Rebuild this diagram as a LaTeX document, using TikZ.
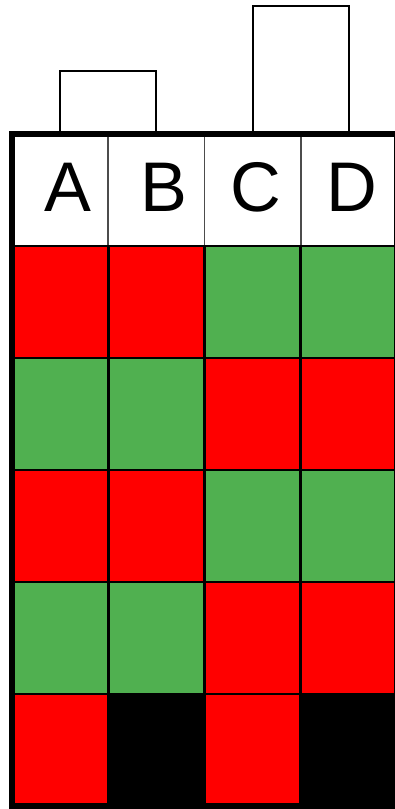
\documentclass[tikz,border=0pt]{standalone}
\usepackage{fontspec}
\setmainfont{Liberation Sans}
\usetikzlibrary{positioning}
\definecolor{hmred}{RGB}{255,0,0}
\definecolor{hmgreen}{RGB}{80,176,80}

\begin{document}
\begin{tikzpicture}[
        x=0.02cm, y=0.02cm,
        cell/.style={rectangle, draw=black, line width=1.6pt, minimum width=1.925cm,
            minimum height=2.24cm, inner sep=0pt, outer sep=0pt},
        head/.style={cell, draw=black!70, line width=0.9pt, fill=white},
        letter/.style={font=\fontsize{40}{48}\selectfont, inner sep=0pt},
        frame/.style={line width=3.3pt},
        link/.style={line width=1.2pt}
    ]
        \useasboundingbox (0,0) rectangle (395,809);
        % header row
        \foreach \col/\x in {A/60.1, B/156.4, C/252.6, D/348.9}
            \node[head] (h\col) at (\x,619) {};
        \node[letter] (tA) at (67.5,622) {A};
        \node[letter] (tB) at (164,622) {B};
        \node[letter] (tC) at (256,622) {C};
        \node[letter] (tD) at (352,622) {D};
        % colour cells
        \foreach \row/\y/\ca/\cb/\cc/\cd in {1/507/hmred/hmred/hmgreen/hmgreen,
                2/395/hmgreen/hmgreen/hmred/hmred,
                3/283/hmred/hmred/hmgreen/hmgreen,
                4/171/hmgreen/hmgreen/hmred/hmred,
                5/59/hmred/black/hmred/black} {
            \node[cell, fill=\ca] (c\row A) at (60.1,\y) {};
            \node[cell, fill=\cb] (c\row B) at (156.4,\y) {};
            \node[cell, fill=\cc] (c\row C) at (252.6,\y) {};
            \node[cell, fill=\cd] (c\row D) at (348.9,\y) {};
        }
        \draw[frame] (hA.north west) rectangle (c5D.south east);
        % brackets
        \draw[link] (hA.north) -- ++(0,63) -| (hB.north);
        \draw[link] (hC.north) -- ++(0,128) -| (hD.north);
    \end{tikzpicture}
\end{document}
